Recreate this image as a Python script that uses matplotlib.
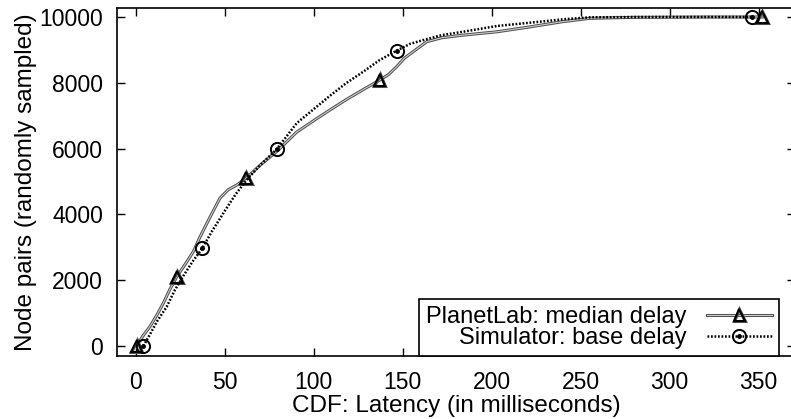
import matplotlib
matplotlib.use("Agg")
import matplotlib.pyplot as plt
import matplotlib.patheffects as pe

plt.rcParams['font.family'] = ['Liberation Sans', 'DejaVu Sans']

# PlanetLab: median delay (latency in ms, node pairs)
pl_x = [0.5, 4, 8, 12, 15.5, 19, 23, 28, 32.4, 36, 40, 44, 47.4, 52, 57, 62,
        70, 80, 90.4, 100, 109, 118, 128, 137, 142, 146.6, 151, 156, 163.5,
        172, 184, 202.8, 221.5, 240, 255, 280, 320, 352]
pl_y = [0, 300, 590, 950, 1300, 1700, 2100, 2500, 2870, 3300, 3730, 4150, 4500,
        4750, 4900, 5100, 5500, 5950, 6500, 6850, 7170, 7480, 7800, 8080, 8250,
        8490, 8750, 8950, 9250, 9370, 9450, 9550, 9700, 9860, 9960, 9990,
        10000, 10000]
pl_marks = [0.5, 23, 62, 137, 352]

# Simulator: base delay
sim_x = [4.3, 8, 12, 17.4, 22, 27, 32, 37.4, 43, 50, 56, 62.3, 70, 79.2, 90.4,
         100, 109, 118, 127.9, 137, 146.6, 154, 161.6, 172, 184, 202.8, 221.5,
         240, 255, 280, 346]
sim_y = [0, 350, 750, 1190, 1700, 2150, 2570, 2970, 3500, 4100, 4600, 5046,
         5500, 5980, 6770, 7200, 7600, 7980, 8340, 8690, 8976, 9180, 9300,
         9450, 9553, 9726, 9827, 9930, 9990, 10000, 10000]
sim_marks = [4.3, 37.4, 79.2, 146.6, 346]

xticks = [0, 50, 100, 150, 200, 250, 300, 350]
yticks = [0, 2000, 4000, 6000, 8000, 10000]

fig = plt.figure(figsize=(7.91, 4.19), dpi=100)
ax = fig.add_axes([117/791, 1-356/419, (795-117)/791, (356-8)/419])

pl_every = [pl_x.index(v) for v in pl_marks]
sim_every = [sim_x.index(v) for v in sim_marks]

l1, = ax.plot(pl_x, pl_y, color='0.8', lw=0.8,
              path_effects=[pe.Stroke(linewidth=2.2, foreground='0.3'), pe.Normal()],
              marker='^', markevery=pl_every, ms=8.5, mfc='none', mec='black', mew=1.4)
l2, = ax.plot(sim_x, sim_y, color='black', lw=1.8, linestyle=(0, (0.7, 0.7)),
              marker='o', markevery=sim_every, ms=9.5, mfc='none', mec='black', mew=1.4)
d2, = ax.plot(sim_x, sim_y, linestyle='none', marker='o', markevery=sim_every,
              ms=2.5, color='black')

ax.set_xlim(-10.5, 370.4)
ax.set_ylim(-304, 10274)
ax.set_xticks(xticks)
ax.set_yticks(yticks)
ax.tick_params(direction='in', length=6, width=1, labelsize=16.5,
               top=True, right=True)
ax.tick_params(axis='x', pad=11)
ax.tick_params(axis='y', pad=10)
for s in ax.spines.values():
    s.set_linewidth(1.2)

ax.set_xlabel('CDF: Latency (in milliseconds)', fontsize=17.5, labelpad=0.5)
ax.set_ylabel('Node pairs (randomly sampled)', fontsize=17.5, labelpad=2)

leg = ax.legend([l1, (l2, d2)], ['PlanetLab: median delay', 'Simulator: base delay'],
                loc='lower right', bbox_to_anchor=((779-117)/(795-117), 0),
                markerfirst=False, fancybox=False, framealpha=1,
                edgecolor='black', fontsize=17, handlelength=2.75,
                borderaxespad=0, borderpad=0.3, labelspacing=-0.05,
                handletextpad=0.85)
leg.get_frame().set_linewidth(1.2)

fig.savefig('out.png', dpi=100)
